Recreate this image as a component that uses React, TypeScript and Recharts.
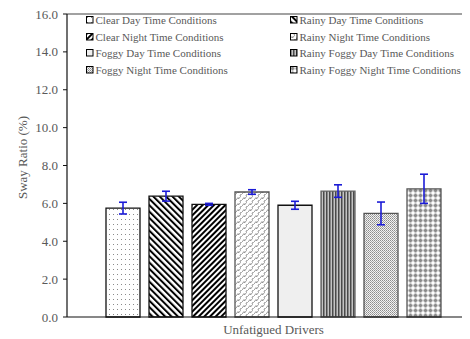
import React from "react";
import {
  BarChart,
  Bar,
  XAxis,
  YAxis,
  ErrorBar,
  ReferenceLine,
  Label,
} from "recharts";

const CATEGORY = "Unfatigued Drivers";
const SERIES = [
  "Clear Day Time Conditions",
  "Rainy Day Time Conditions",
  "Clear Night Time Conditions",
  "Rainy Night Time Conditions",
  "Foggy Day Time Conditions",
  "Rainy Foggy Day Time Conditions",
  "Foggy Night Time Conditions",
  "Rainy Foggy Night Time Conditions",
];
const VALUES = [5.75, 6.38, 5.95, 6.6, 5.9, 6.65, 5.47, 6.77];
const ERRORS = [0.31, 0.26, 0.05, 0.12, 0.21, 0.33, 0.6, 0.77];
const Y_TICKS = [0, 2, 4, 6, 8, 10, 12, 14, 16];

// pattern id + outline colour for each series, same order as SERIES
const PATTERNS = [
  "p-dots",
  "p-back",
  "p-fwd",
  "p-wave",
  "p-light",
  "p-vert",
  "p-check",
  "p-plus",
];
const STROKES = ["#111", "#111", "#111", "#555", "#111", "#666", "#555", "#555"];

const FONT = "'Liberation Serif', 'Times New Roman', serif";
const TEXT = "#595959";

const row: Record<string, string | number> = { name: CATEGORY };
SERIES.forEach((_, i) => {
  row[`v${i}`] = VALUES[i];
  row[`e${i}`] = ERRORS[i];
});
const data = [row];

function Patterns() {
  return (
    <defs>
      <pattern id="p-dots" width="4" height="5" patternUnits="userSpaceOnUse">
        <rect width="4" height="5" fill="#fff" />
        <rect x="1" y="1" width="1" height="1" fill="#8a8a8a" />
      </pattern>
      <pattern
        id="p-back"
        width="4.5"
        height="4.5"
        patternUnits="userSpaceOnUse"
        patternTransform="rotate(-45)"
      >
        <rect width="4.5" height="4.5" fill="#fff" />
        <rect width="2" height="4.5" fill="#000" />
      </pattern>
      <pattern
        id="p-fwd"
        width="4"
        height="4"
        patternUnits="userSpaceOnUse"
        patternTransform="rotate(45)"
      >
        <rect width="4" height="4" fill="#fff" />
        <rect width="2" height="4" fill="#000" />
      </pattern>
      <pattern id="p-wave" width="6" height="6" patternUnits="userSpaceOnUse">
        <rect width="6" height="6" fill="#fff" />
        <path
          d="M0 6 L2 3.5 L2.5 5 L4.5 2.5 L4 1 L6 0"
          fill="none"
          stroke="#808080"
          strokeWidth="0.8"
        />
      </pattern>
      <pattern id="p-light" width="4" height="4" patternUnits="userSpaceOnUse">
        <rect width="4" height="4" fill="#efefef" />
      </pattern>
      <pattern id="p-vert" width="3" height="3" patternUnits="userSpaceOnUse">
        <rect width="3" height="3" fill="#c4c4c4" />
        <rect width="1.5" height="3" fill="#4a4a4a" />
      </pattern>
      <pattern id="p-check" width="2" height="2" patternUnits="userSpaceOnUse">
        <rect width="2" height="2" fill="#f2f2f2" />
        <rect width="1" height="1" fill="#8c8c8c" />
        <rect x="1" y="1" width="1" height="1" fill="#a8a8a8" />
      </pattern>
      <pattern id="p-plus" width="5" height="5" patternUnits="userSpaceOnUse">
        <rect width="5" height="5" fill="#fff" />
        <rect x="0.5" y="1.5" width="4" height="2" fill="#8a8a8a" />
        <rect x="1.5" y="0.5" width="2" height="4" fill="#8a8a8a" />
      </pattern>
    </defs>
  );
}

// eslint-disable-next-line @typescript-eslint/no-explicit-any
function YTitle(props: any) {
  const vb = props.viewBox || { x: 0, y: 0, width: 0, height: 0 };
  const x = vb.x + 14;
  const y = vb.y + vb.height / 2 - 8;
  return (
    <text
      x={x}
      y={y}
      transform={`rotate(-90, ${x}, ${y})`}
      textAnchor="middle"
      dominantBaseline="central"
      fill={TEXT}
      fontSize={13}
      fontFamily={FONT}
    >
      Sway Ratio (%)
    </text>
  );
}

function LegendBox() {
  return (
    <div
      style={{
        position: "absolute",
        left: 78,
        top: 4,
        display: "grid",
        gridTemplateColumns: "204px 180px",
        gridAutoRows: "16.5px",
        fontFamily: FONT,
        fontSize: 11,
        color: TEXT,
        pointerEvents: "none",
      }}
    >
      {SERIES.map((s, i) => (
        <div
          key={s}
          style={{ display: "flex", alignItems: "center", whiteSpace: "nowrap" }}
        >
          <svg width={8} height={8} style={{ marginRight: 1.5 }}>
            <rect
              x={0.5}
              y={0.5}
              width={6.5}
              height={6.5}
              fill={`url(#${PATTERNS[i]})`}
              stroke="#000"
              strokeWidth={1}
            />
          </svg>
          <span>{s}</span>
        </div>
      ))}
    </div>
  );
}

export default function App() {
  return (
    <div
      style={{
        position: "relative",
        width: 462,
        height: 331,
        overflow: "hidden",
      }}
    >
      <BarChart
        width={472}
        height={331}
        data={data}
        margin={{ top: 6, right: 0, bottom: 0, left: 0 }}
        barSize={34}
        barGap={9}
      >
        <Patterns />
        <XAxis
          dataKey="name"
          height={22}
          tickLine={false}
          axisLine={{ stroke: "#111", strokeWidth: 1.2 }}
          tick={{ fill: TEXT, fontSize: 13, fontFamily: FONT }}
          tickMargin={2}
        />
        <YAxis
          width={59}
          domain={[0, 16]}
          ticks={Y_TICKS}
          interval={0}
          tickFormatter={(v: number) => v.toFixed(1)}
          tickSize={4}
          tickMargin={5}
          axisLine={{ stroke: "#111", strokeWidth: 1.2 }}
          tickLine={{ stroke: "#111" }}
          tick={{ fill: TEXT, fontSize: 13, fontFamily: FONT }}
        >
          <Label content={<YTitle />} position="center" />
        </YAxis>
        <ReferenceLine y={16} stroke="#444" strokeWidth={1.2} />
        {SERIES.map((s, i) => (
          <Bar
            key={s}
            dataKey={`v${i}`}
            name={s}
            fill={`url(#${PATTERNS[i]})`}
            stroke={STROKES[i]}
            strokeWidth={1.3}
            isAnimationActive={false}
          >
            <ErrorBar
              dataKey={`e${i}`}
              width={4}
              stroke="#1c1cd6"
              strokeWidth={1.6}
              direction="y"
            />
          </Bar>
        ))}
      </BarChart>
      <LegendBox />
    </div>
  );
}
